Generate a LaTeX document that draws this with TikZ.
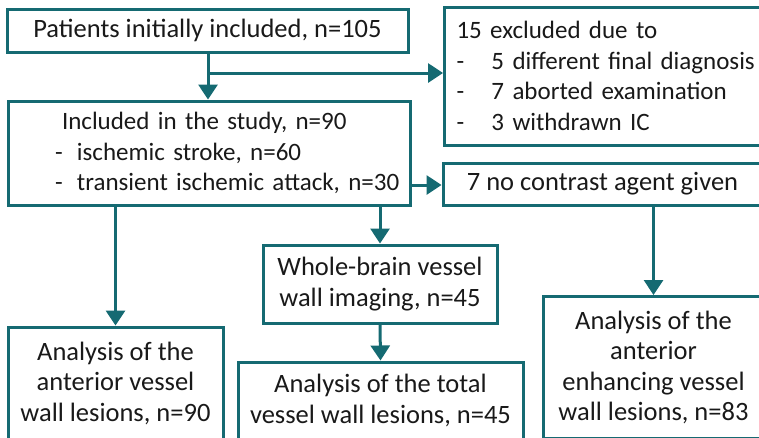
\documentclass[tikz,border=0pt]{standalone}
\usepackage{fontspec}
\setmainfont{Carlito}
\usetikzlibrary{arrows.meta}
\definecolor{flowteal}{HTML}{156A72}
\newcommand{\dashline}[3]{\hspace*{#1pt}\mbox{\makebox[#2pt][l]{-}#3}}
\begin{document}
\begin{tikzpicture}[x=1pt,y=-1pt,font=\fontsize{26.5}{30.5}\selectfont,
box/.style={draw=flowteal,line width=3pt,inner sep=0pt,align=center,text=black!90},
listbox/.style={box,align=left,font=\fontsize{25}{30.5}\selectfont},
arr/.style={draw=flowteal,line width=3pt,-{Triangle[width=19pt,length=15pt]}}]
\useasboundingbox (0,0) rectangle (759,437);
% boxes
\node[box,minimum width=401,minimum height=43] (incl) at (207.5,30.5){Patients initially included, n=105};
\node[listbox,minimum height=138,text width=308,inner xsep=12,anchor=west] (excl) at (443,76){15 excluded due to\\\dashline{0}{35}{5 different final diagnosis}\\\dashline{0}{35}{7 aborted examination}\\\dashline{0}{35}{3 withdrawn IC}};
\node[listbox,minimum height=104,text width=390,inner xsep=6] (study) at (209,153){\hspace*{48pt}Included in the study, n=90\\\dashline{41}{22}{ischemic stroke, n=60}\\\dashline{41}{22}{transient ischemic attack, n=30}};
\node[box,minimum width=319,minimum height=42] (nocon) at (602.5,184){7 no contrast agent given};
\node[box,minimum width=215,minimum height=112] (ant) at (115.5,383){Analysis of the\\anterior vessel\\wall lesions, n=90};
\node[box,minimum width=234,minimum height=78] (whole) at (380,284){Whole-brain vessel\\wall imaging, n=45};
\node[box,minimum width=285,minimum height=77] (total) at (380.5,400.5){Analysis of the total\\vessel wall lesions, n=45};
\node[box,minimum width=220,minimum height=142,anchor=north west] (enh) at (542,295){Analysis of the\\anterior\\enhancing vessel\\wall lesions, n=83};
% connectors
\coordinate (split) at (208,73);
\draw[arr] (incl.south -| split)--(study.north -| split);
\draw[arr] (split)--(split -| excl.west);
\draw[arr] (study.east |- 0,185)--(nocon.west |- 0,185);
\draw[arr] (ant.north |- study.south)--(ant.north);
\draw[arr] (whole.north |- study.south)--(whole.north);
\draw[arr] (whole.south)--(total.north);
\draw[arr] (enh.north |- nocon.south)--(enh.north);
\end{tikzpicture}
\end{document}
